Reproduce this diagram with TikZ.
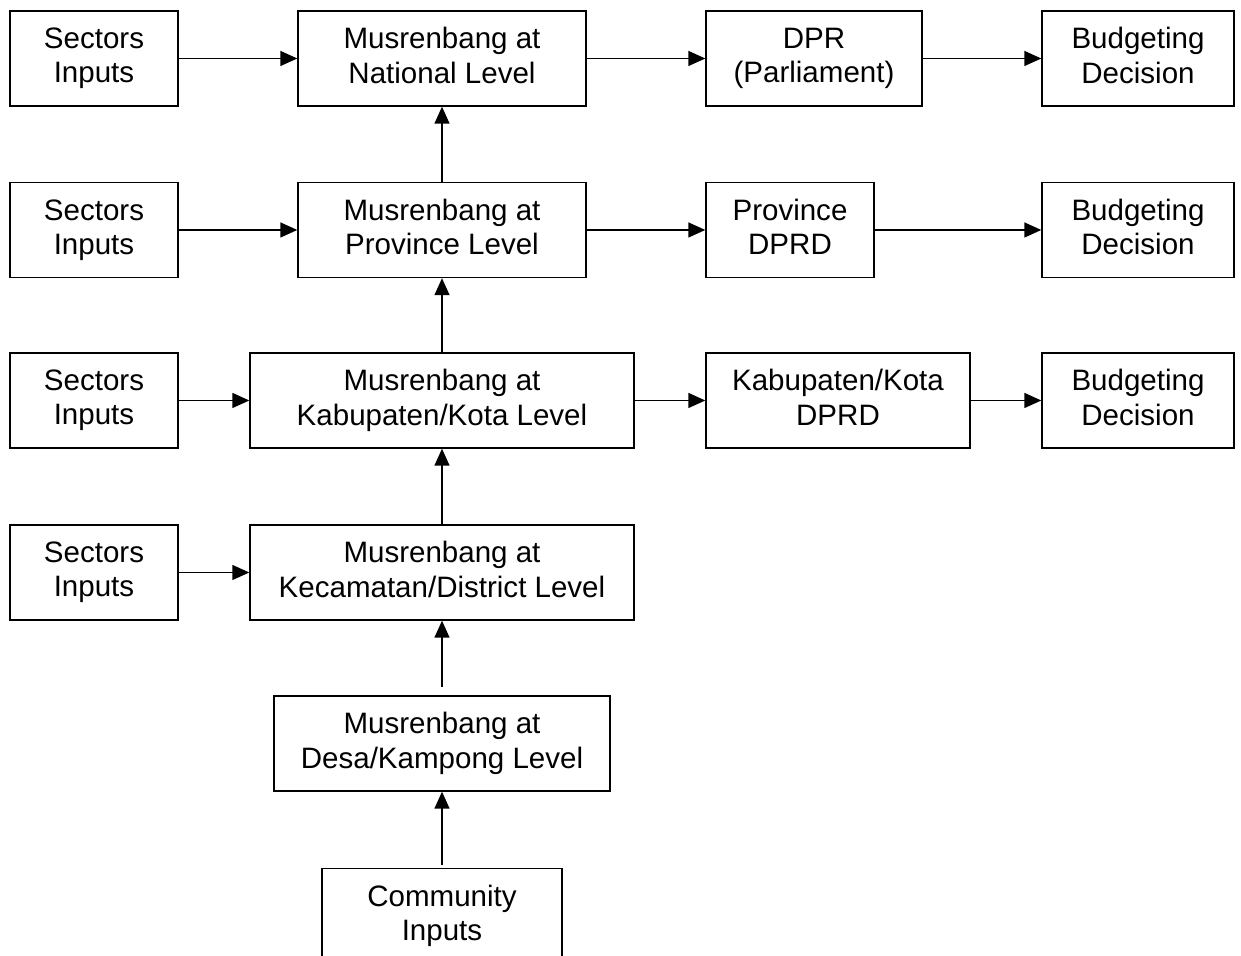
\documentclass[tikz,border=0pt]{standalone}
\usepackage{fontspec}
\setmainfont{Liberation Sans}
\usetikzlibrary{arrows.meta}
\begin{document}
\begin{tikzpicture}[
    box/.style={rectangle, draw, line width=0.8pt, align=center,
    font=\fontsize{16.8}{19.5}\selectfont, minimum height=1.9cm, inner sep=0pt,
    execute at begin node=\vphantom{(}, execute at end node=\vphantom{(}},
    sector/.style={box, minimum width=3.36cm},
    budget/.style={box, minimum width=3.84cm},
    flow/.style={-{Triangle[length=0.34cm, width=0.3cm]}, line width=0.8pt}
]
    \clip (0,0) rectangle (24.82,19.12);
    \node (sec1) [sector] at (1.88, 17.95) {Sectors\\Inputs};
    \node (national) [box, minimum width=5.76cm] at (8.84, 17.95) {Musrenbang at\\National Level};
    \node (dpr) [box, minimum width=4.32cm] at (16.28, 17.95) {DPR\\(Parliament)};
    \node (bud1) [budget] at (22.76, 17.95) {Budgeting\\Decision};

    \node (sec2) [sector] at (1.88, 14.52) {Sectors\\Inputs};
    \node (province) [box, minimum width=5.76cm] at (8.84, 14.52) {Musrenbang at\\Province Level};
    \node (provdprd) [box, minimum width=3.36cm] at (15.8, 14.52) {Province\\DPRD};
    \node (bud2) [budget] at (22.76, 14.52) {Budgeting\\Decision};

    \node (sec3) [sector] at (1.88, 11.11) {Sectors\\Inputs};
    \node (kabupaten) [box, minimum width=7.68cm] at (8.84, 11.11) {Musrenbang at\\Kabupaten/Kota Level};
    \node (kabdprd) [box, minimum width=5.28cm] at (16.76, 11.11) {Kabupaten/Kota\\DPRD};
    \node (bud3) [budget] at (22.76, 11.11) {Budgeting\\Decision};

    \node (sec4) [sector] at (1.88, 7.67) {Sectors\\Inputs};
    \node (kecamatan) [box, minimum width=7.68cm] at (8.84, 7.67) {Musrenbang at\\Kecamatan/District Level};

    \node (desa) [box, minimum width=6.72cm] at (8.84, 4.25) {Musrenbang at\\Desa/Kampong Level};

    \node (community) [box, minimum width=4.8cm] at (8.84, 0.8) {Community\\Inputs};

    \draw [flow] (sec1) -- (national);
    \draw [flow] (national) -- (dpr);
    \draw [flow] (dpr) -- (bud1);
    \draw [flow] (sec2) -- (province);
    \draw [flow] (province) -- (provdprd);
    \draw [flow] (provdprd) -- (bud2);
    \draw [flow] (sec3) -- (kabupaten);
    \draw [flow] (kabupaten) -- (kabdprd);
    \draw [flow] (kabdprd) -- (bud3);
    \draw [flow] (sec4) -- (kecamatan);

    \draw [flow] (province) -- (national);
    \draw [flow] (kabupaten) -- (province);
    \draw [flow] (kecamatan) -- (kabupaten);
    \draw [flow, shorten <=0.17cm] (desa) -- (kecamatan);
    \draw [flow, shorten <=0.06cm] (community) -- (desa);
\end{tikzpicture}
\end{document}
